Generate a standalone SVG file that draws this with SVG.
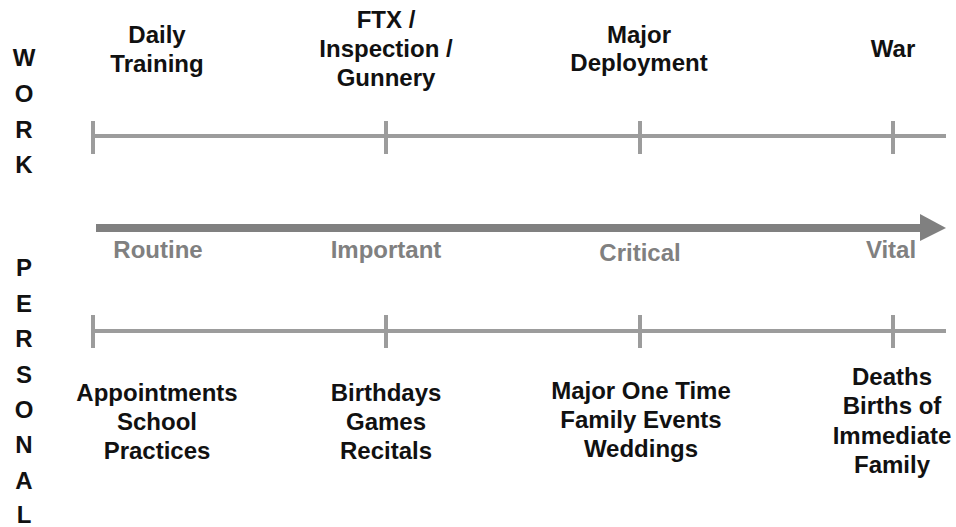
<svg xmlns="http://www.w3.org/2000/svg" width="956" height="527" viewBox="0 0 956 527">
<style>
.t{font-family:"Liberation Sans",Arial,sans-serif;font-weight:bold;font-size:24px;fill:#111;text-anchor:middle}
.g{font-family:"Liberation Sans",Arial,sans-serif;font-weight:bold;font-size:24px;fill:#808080;text-anchor:middle}
.s{font-family:"Liberation Sans",Arial,sans-serif;font-weight:bold;font-size:24px;fill:#111;text-anchor:middle}
.ln{stroke:#9c9c9c;stroke-width:4;fill:none}
</style>
<rect width="956" height="527" fill="#fff"/>
<g id="side-work">
<text class="s" x="24" y="66">W</text>
<text class="s" x="24" y="102">O</text>
<text class="s" x="24" y="138">R</text>
<text class="s" x="24" y="173">K</text>
</g>
<g id="side-personal">
<text class="s" x="24" y="276">P</text>
<text class="s" x="24" y="312">E</text>
<text class="s" x="24" y="347">R</text>
<text class="s" x="24" y="383">S</text>
<text class="s" x="24" y="418">O</text>
<text class="s" x="24" y="453">N</text>
<text class="s" x="24" y="489">A</text>
<text class="s" x="24" y="523">L</text>
</g>
<g id="connectors">
<g id="work-line">
<line class="ln" x1="93" y1="136" x2="946" y2="136"/>
<line class="ln" x1="93" y1="121" x2="93" y2="154"/>
<line class="ln" x1="386" y1="121" x2="386" y2="154"/>
<line class="ln" x1="640" y1="121" x2="640" y2="154"/>
<line class="ln" x1="893" y1="121" x2="893" y2="154"/>
</g>
<g id="personal-line">
<line class="ln" x1="93" y1="331" x2="946" y2="331"/>
<line class="ln" x1="93" y1="315" x2="93" y2="348"/>
<line class="ln" x1="386" y1="315" x2="386" y2="348"/>
<line class="ln" x1="640" y1="315" x2="640" y2="348"/>
<line class="ln" x1="893" y1="315" x2="893" y2="348"/>
</g>
<g id="scale-arrow">
<rect x="96" y="224" width="826" height="8" fill="#808080"/>
<polygon points="920,214 946,228 920,241" fill="#808080"/>
</g>
</g>
<g id="scale-labels">
<text class="g" x="158" y="258">Routine</text>
<text class="g" x="386" y="258">Important</text>
<text class="g" x="640" y="261">Critical</text>
<text class="g" x="891" y="258">Vital</text>
</g>
<g id="work-daily">
<text class="t" x="157" y="43">Daily</text>
<text class="t" x="157" y="72">Training</text>
</g>
<g id="work-ftx">
<text class="t" x="386" y="28">FTX /</text>
<text class="t" x="386" y="57">Inspection /</text>
<text class="t" x="386" y="86">Gunnery</text>
</g>
<g id="work-deployment">
<text class="t" x="639" y="43">Major</text>
<text class="t" x="639" y="71">Deployment</text>
</g>
<g id="work-war">
<text class="t" x="893" y="57">War</text>
</g>
<g id="personal-routine">
<text class="t" x="157" y="401">Appointments</text>
<text class="t" x="157" y="430">School</text>
<text class="t" x="157" y="459">Practices</text>
</g>
<g id="personal-important">
<text class="t" x="386" y="401">Birthdays</text>
<text class="t" x="386" y="430">Games</text>
<text class="t" x="386" y="459">Recitals</text>
</g>
<g id="personal-critical">
<text class="t" x="641" y="399">Major One Time</text>
<text class="t" x="641" y="428">Family Events</text>
<text class="t" x="641" y="457">Weddings</text>
</g>
<g id="personal-vital">
<text class="t" x="892" y="385">Deaths</text>
<text class="t" x="892" y="414">Births of</text>
<text class="t" x="892" y="444">Immediate</text>
<text class="t" x="892" y="473">Family</text>
</g>
</svg>
